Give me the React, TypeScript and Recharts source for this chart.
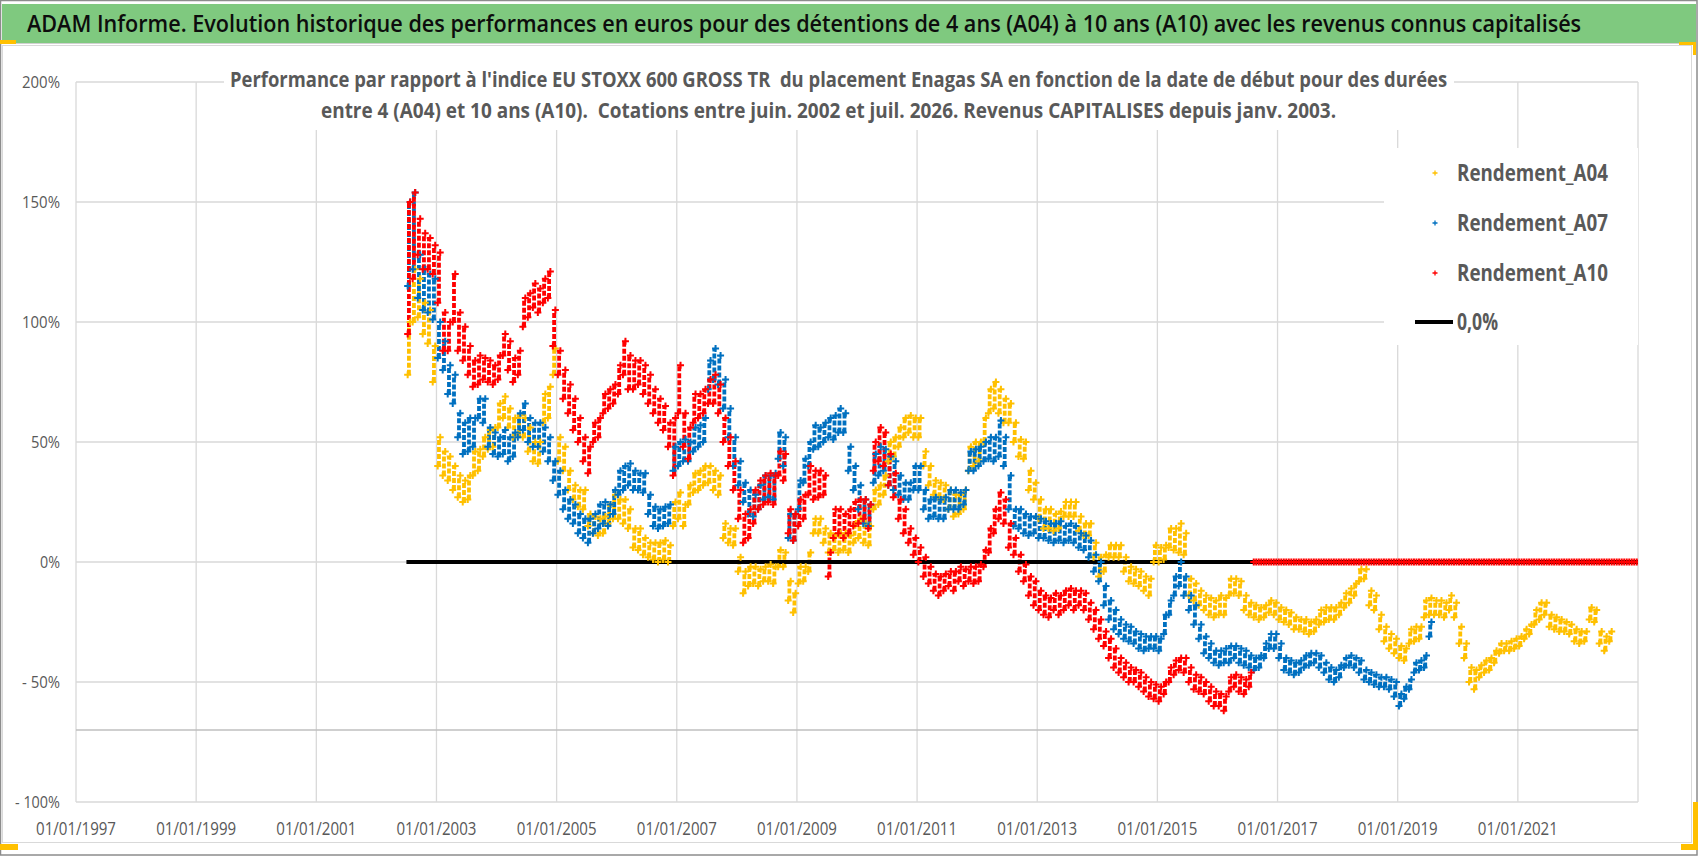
import { useLayoutEffect, useRef, useState } from "react";
import { CartesianGrid, ComposedChart, ErrorBar, ReferenceLine, Scatter, XAxis, YAxis } from "recharts";

const W = 1698;
const H = 856;
const FONT = "'Open Sans', 'Liberation Sans', sans-serif";
const GREY_TEXT = "#595959";

const X_TICKS = [1997, 1999, 2001, 2003, 2005, 2007, 2009, 2011, 2013, 2015, 2017, 2019, 2021];
const Y_TICKS = [-100, -50, 0, 50, 100, 150, 200];
const X_DOMAIN = [1997, 2023];

// première valeur : juil. 2002, une paire [bas, haut] par mois
const SERIES_START = 2002.5;

// Rendement_A04, en %
const A04 = [
  78, 100, 100, 122, 102, 118, 95, 108, 91, 105, 75, 90,
  40, 52, 36, 46, 34, 44, 30, 40, 27, 36, 25, 34, 26, 36, 36, 46, 38, 47, 44, 52, 47, 55, 48, 56,
  56, 66, 60, 69, 56, 64, 52, 60, 53, 61, 52, 60, 46, 56, 42, 50, 41, 50, 58, 70, 60, 73, 78, 89,
  42, 52, 38, 48, 30, 38, 26, 32, 23, 30, 22, 30, 15, 20, 12, 19, 11, 18, 12, 19, 16, 24, 18, 28,
  18, 26, 16, 26, 14, 22, 6, 14, 5, 14, 3, 10, 2, 8, 1, 8, 0, 8, 1, 9, 0, 7, 15, 25,
  18, 29, 15, 24, 24, 32, 29, 37, 30, 38, 32, 40, 33, 40, 30, 38, 28, 36, 10, 16, 8, 14, 7, 14,
  -4, 2, -13, -4, -10, -2, -9, -2, -10, -3, -8, -2, -8, -1, -9, -2, -2, 5, -2, 4, -16, -8, -21, -13,
  -9, -2, -8, -2, -4, 4, 12, 18, 12, 18, 8, 14, 4, 12, 5, 11, 4, 12, 5, 12, 4, 11, 8, 16,
  10, 18, 8, 16, 7, 15, 22, 30, 24, 32, 28, 36, 42, 50, 44, 52, 48, 56, 52, 60, 54, 61, 52, 60,
  52, 60, 40, 46, 32, 40, 28, 34, 27, 33, 26, 32, 22, 30, 19, 28, 20, 28, 22, 30, 38, 48, 40, 50,
  42, 50, 50, 60, 62, 72, 64, 75, 62, 72, 58, 68, 58, 66, 50, 58, 44, 51, 43, 50, 30, 38, 26, 33,
  18, 26, 14, 22, 14, 22, 13, 20, 14, 21, 19, 25, 19, 25, 19, 25, 13, 19, 11, 16, 11, 16, 2, 8,
  -6, 2, -4, 3, 2, 7, 2, 7, 2, 7, -4, 2, -8, -2, -9, -3, -10, -4, -12, -6, -14, -7, 0, 7,
  0, 6, 1, 7, 6, 14, 5, 14, 4, 16, 3, 12, -14, -7, -16, -9, -18, -12, -20, -14, -22, -15, -23, -16,
  -22, -14, -22, -15, -14, -7, -13, -7, -14, -8, -20, -14, -22, -17, -23, -18, -24, -19, -23, -18, -21, -16, -22, -17,
  -24, -19, -25, -20, -26, -21, -28, -23, -28, -24, -29, -24, -30, -25, -29, -24, -26, -20, -25, -19, -24, -19, -24, -19,
  -22, -17, -19, -13, -17, -11, -14, -9, -8, -3, -7, -3, -18, -12, -20, -14, -28, -22, -33, -27, -36, -30, -38, -32,
  -40, -35, -41, -36, -34, -28, -33, -27, -32, -27, -23, -16, -22, -15, -22, -16, -22, -16, -23, -17, -20, -14, -23, -17,
  -34, -27, -40, -34, -50, -44, -53, -45, -48, -43, -46, -41, -45, -40, -42, -37, -38, -34, -37, -34, -37, -33, -36, -32,
  -35, -31, -32, -28, -30, -26, -26, -20, -24, -17, -22, -17, -27, -22, -28, -23, -29, -24, -29, -25, -30, -26, -33, -28,
  -34, -29, -33, -29, -24, -19, -25, -20, -34, -29, -37, -31, -33, -29,
];

// Rendement_A07, en %
const A07 = [
  115, 150, 122, 154, 110, 128, 105, 122, 104, 120, 101, 118,
  85, 100, 80, 92, 70, 82, 66, 78, 52, 62, 45, 58, 46, 60, 48, 60, 60, 68, 58, 68, 48, 56, 45, 54,
  44, 52, 45, 55, 42, 52, 44, 54, 52, 62, 55, 66, 50, 60, 48, 58, 48, 58, 46, 56, 42, 52, 34, 42,
  28, 38, 22, 30, 18, 26, 16, 24, 12, 20, 10, 18, 8, 18, 12, 20, 14, 24, 16, 25, 15, 24, 20, 30,
  28, 38, 30, 40, 32, 41, 30, 38, 30, 37, 29, 37, 20, 28, 15, 23, 14, 22, 15, 23, 16, 24, 38, 48,
  40, 50, 42, 51, 42, 50, 46, 56, 48, 57, 50, 60, 72, 84, 76, 89, 74, 86, 64, 76, 52, 64, 40, 52,
  32, 42, 25, 33, 20, 30, 19, 28, 22, 32, 26, 36, 27, 36, 26, 37, 43, 54, 40, 52, 10, 20, 9, 20,
  22, 34, 33, 43, 40, 50, 47, 57, 48, 56, 50, 58, 52, 60, 51, 61, 54, 64, 54, 62, 38, 48, 30, 40,
  22, 32, 16, 26, 15, 24, 33, 45, 36, 48, 38, 47, 32, 44, 30, 42, 28, 36, 26, 33, 26, 33, 30, 40,
  30, 40, 22, 30, 18, 26, 19, 27, 18, 26, 18, 27, 22, 30, 22, 30, 22, 29, 24, 30, 38, 46, 38, 47,
  40, 48, 42, 50, 43, 52, 42, 52, 44, 59, 40, 52, 22, 36, 15, 22, 14, 22, 12, 20, 11, 19, 12, 19,
  10, 18, 10, 17, 9, 16, 8, 16, 9, 17, 8, 15, 9, 16, 8, 15, 6, 12, 5, 11, 2, 9, -4, 3,
  -8, 0, -18, -10, -24, -16, -28, -20, -30, -24, -32, -26, -33, -27, -34, -29, -36, -30, -37, -31, -36, -31, -36, -31,
  -37, -32, -30, -22, -22, -16, -14, -6, -10, 0, -14, -6, -20, -14, -26, -18, -32, -26, -38, -31, -40, -34, -42, -37,
  -43, -37, -42, -36, -42, -35, -40, -35, -42, -36, -43, -37, -44, -39, -45, -40, -44, -39, -40, -34, -36, -30, -36, -30,
  -40, -34, -45, -40, -46, -41, -47, -42, -46, -41, -44, -39, -43, -38, -42, -38, -44, -39, -46, -42, -49, -44, -50, -45,
  -48, -43, -44, -40, -43, -39, -44, -40, -46, -41, -49, -45, -50, -46, -51, -47, -52, -48, -52, -48, -53, -49, -56, -50,
  -60, -55, -57, -52, -53, -49, -46, -42, -45, -41, -44, -39, -31, -25,
];

// Rendement_A10, en % (0 une fois la durée de 10 ans non disponible)
const A10 = [
  95, 150, 118, 154, 128, 143, 122, 137, 122, 135, 120, 132,
  108, 129, 88, 104, 88, 100, 100, 120, 88, 104, 84, 98, 78, 90, 73, 84, 74, 86, 76, 85, 75, 84, 74, 82,
  76, 86, 86, 95, 80, 92, 75, 85, 78, 88, 98, 110, 102, 112, 106, 116, 104, 114, 108, 118, 110, 121, 90, 105,
  78, 88, 68, 80, 62, 74, 55, 68, 50, 60, 42, 52, 37, 48, 50, 58, 52, 60, 62, 70, 64, 72, 66, 74,
  70, 82, 78, 92, 72, 86, 72, 84, 74, 84, 70, 82, 66, 78, 62, 72, 58, 68, 55, 65, 48, 58, 36, 60,
  62, 82, 48, 62, 43, 56, 58, 70, 60, 70, 62, 72, 66, 76, 66, 78, 62, 74, 50, 60, 40, 52, 30, 42,
  18, 30, 8, 20, 10, 22, 16, 30, 22, 34, 24, 36, 25, 37, 24, 36, 36, 46, 34, 45, 12, 22, 9, 20,
  15, 26, 18, 28, 28, 40, 26, 38, 27, 38, 28, 36, -6, 4, 10, 22, 12, 22, 10, 20, 12, 22, 15, 25,
  16, 26, 18, 26, 14, 24, 38, 50, 42, 56, 40, 54, 32, 45, 27, 37, 18, 26, 12, 22, 8, 14, 3, 10,
  0, 6, -6, 2, -9, -2, -12, -5, -14, -6, -12, -5, -10, -4, -12, -4, -8, -2, -10, -3, -8, -2, -9, -2,
  -8, -1, -2, 5, 4, 14, 12, 22, 18, 29, 16, 26, 6, 16, 3, 10, -4, 3, -8, -1, -14, -6, -18, -8,
  -20, -12, -22, -14, -23, -15, -20, -13, -22, -14, -20, -12, -18, -11, -20, -12, -18, -12, -20, -13, -24, -17, -28, -20,
  -32, -24, -35, -29, -40, -32, -44, -36, -46, -40, -48, -42, -50, -44, -50, -45, -52, -46, -54, -48, -56, -50, -57, -51,
  -58, -52, -55, -50, -50, -44, -47, -41, -45, -40, -46, -40, -50, -44, -53, -47, -54, -48, -55, -50, -58, -52, -60, -54,
  -60, -55, -62, -56, -54, -48, -52, -47, -54, -48, -55, -49, -52, -46, 0, 0, 0, 0, 0, 0, 0, 0, 0, 0,
  0, 0, 0, 0, 0, 0, 0, 0, 0, 0, 0, 0, 0, 0, 0, 0, 0, 0, 0, 0, 0, 0, 0, 0,
  0, 0, 0, 0, 0, 0, 0, 0, 0, 0, 0, 0, 0, 0, 0, 0, 0, 0, 0, 0, 0, 0, 0, 0,
  0, 0, 0, 0, 0, 0, 0, 0, 0, 0, 0, 0, 0, 0, 0, 0, 0, 0, 0, 0, 0, 0, 0, 0,
  0, 0, 0, 0, 0, 0, 0, 0, 0, 0, 0, 0, 0, 0, 0, 0, 0, 0, 0, 0, 0, 0, 0, 0,
  0, 0, 0, 0, 0, 0, 0, 0, 0, 0, 0, 0, 0, 0, 0, 0, 0, 0, 0, 0, 0, 0, 0, 0,
  0, 0, 0, 0, 0, 0, 0, 0, 0, 0, 0, 0, 0, 0, 0, 0, 0, 0, 0, 0, 0, 0, 0, 0,
];

// série "0,0%"
const ZERO_LINE = [
  { x: 2002.5, y: 0 },
  { x: 2023, y: 0 },
];

const SERIES = [
  { name: "Rendement_A04", values: A04, color: "#FFC000" },
  { name: "Rendement_A07", values: A07, color: "#0070C0" },
  { name: "Rendement_A10", values: A10, color: "#FF0000" },
];

// low point in the first half of the month, high point in the second half
function toPoints(values: number[]) {
  return values.map((v, i) => {
    const month = Math.floor(i / 2);
    const x = SERIES_START + month / 12 + (i % 2 === 0 ? 1 : 3) / 48;
    return { x, y: v };
  });
}

// one entry per month: the low reading, with the spread up to the high reading
function toBands(values: number[]) {
  const out: { x: number; y: number; spread: [number, number] }[] = [];
  for (let i = 0; i + 1 < values.length; i += 2) {
    out.push({ x: SERIES_START + i / 24 + 1 / 24, y: values[i], spread: [0, values[i + 1] - values[i]] });
  }
  return out;
}

const plus = (color: string, arm = 3.5, sw = 2) => (p: any) => (
  <path
    d={`M${p.cx - arm},${p.cy}h${arm * 2}M${p.cx},${p.cy - arm}v${arm * 2}`}
    stroke={color}
    strokeWidth={sw}
    fill="none"
  />
);

// text squeezed horizontally to a given width (the reference font is narrow)
function FitText({ x, y, width, anchor = "start", children, ...rest }: any) {
  const ref = useRef<SVGTextElement>(null);
  const [k, setK] = useState(1);
  useLayoutEffect(() => {
    const el = ref.current;
    if (!el) return;
    const w = el.getComputedTextLength();
    if (w > 0) setK(width / w);
  }, [width, children]);
  return (
    <text ref={ref} x={0} y={0} textAnchor={anchor} transform={`translate(${x},${y}) scale(${k},1)`} {...rest}>
      {children}
    </text>
  );
}

const Y_LABEL_LEN: Record<string, number> = {
  "200%": 38,
  "150%": 38,
  "100%": 38,
  "50%": 29,
  "0%": 20,
  "- 50%": 38,
  "- 100%": 45,
};

const fmtPct = (v: number) => (v < 0 ? `- ${-v}%` : `${v}%`);

function XTick({ x, y, payload }: any) {
  return (
    <FitText x={x} y={y + 33} width={80} anchor="middle" fontFamily={FONT} fontSize={18} fill={GREY_TEXT}>
      {`01/01/${payload.value}`}
    </FitText>
  );
}

function YTick({ x, y, payload }: any) {
  const label = fmtPct(payload.value);
  return (
    <FitText
      x={x - 16}
      y={y + 6}
      width={Y_LABEL_LEN[label]}
      anchor="end"
      fontFamily={FONT}
      fontSize={16}
      fill={GREY_TEXT}
      style={{ whiteSpace: "pre" }}
    >
      {label}
    </FitText>
  );
}

const LEGEND_ROWS = [
  { label: "Rendement_A04", color: "#FFC000", y: 173 },
  { label: "Rendement_A07", color: "#0070C0", y: 223 },
  { label: "Rendement_A10", color: "#FF0000", y: 273 },
];

export default function App() {
  return (
    <div style={{ position: "relative", width: W, height: H, background: "#fff", overflow: "hidden" }}>
      <style>{`body{margin:0}`}</style>

      {/* cadre, bandeau vert, poignées de sélection */}
      <svg width={W} height={H} style={{ position: "absolute", left: 0, top: 0 }}>
        <rect x={0.5} y={0.5} width={W - 1.5} height={H - 1.5} fill="#fff" stroke="#8c8c8c" strokeWidth={1.5} />
        <rect x={2} y={4} width={1694} height={39} fill="#7fc97f" />
        <line x1={2} y1={43.5} x2={1692} y2={43.5} stroke="#d0d0d0" />
        <rect x={2.5} y={45.5} width={1689} height={797} fill="none" stroke="#d9d9d9" />
        <rect x={0} y={40} width={16} height={4} fill="#FFC000" />
        <rect x={1679} y={42} width={17} height={3} fill="#FFC000" />
        <rect x={1693} y={42} width={3} height={13} fill="#FFC000" />
        <rect x={0} y={844} width={18} height={6} fill="#FFC000" />
        <rect x={1693} y={802} width={5} height={48} fill="#FFC000" />
        <rect x={1681} y={844} width={17} height={6} fill="#FFC000" />
        <FitText x={27} y={32} width={1555} fontFamily={FONT} fontSize={24} fontWeight={600} fill="#0d0d0d">
          ADAM Informe. Evolution historique des performances en euros pour des détentions de 4 ans (A04) à 10 ans (A10) avec les revenus connus capitalisés
        </FitText>
      </svg>

      <div style={{ position: "absolute", left: 0, top: 0 }}>
        <ComposedChart width={W} height={H} margin={{ top: 82, right: 60, bottom: 14, left: 0 }}>
          <CartesianGrid stroke="#d9d9d9" strokeWidth={1.3} />
          <XAxis
            type="number"
            dataKey="x"
            domain={X_DOMAIN}
            ticks={X_TICKS}
            allowDataOverflow
            height={40}
            axisLine={false}
            tickLine={false}
            tickSize={0}
            tickMargin={0}
            tick={<XTick />}
            interval={0}
          />
          <YAxis
            type="number"
            dataKey="y"
            domain={[-100, 200]}
            ticks={Y_TICKS}
            allowDataOverflow
            width={76}
            axisLine={false}
            tickLine={false}
            tickSize={0}
            tickMargin={0}
            tick={<YTick />}
            interval={0}
          />
          <ReferenceLine y={-70} stroke="#bfbfbf" strokeWidth={1.5} />
          <Scatter
            name="0,0%"
            data={ZERO_LINE}
            line={{ stroke: "#000", strokeWidth: 4 }}
            shape={() => <g />}
            isAnimationActive={false}
          />
          {SERIES.flatMap((s) => [
            <Scatter
              key={`${s.name}-band`}
              data={toBands(s.values)}
              shape={() => <g />}
              isAnimationActive={false}
            >
              <ErrorBar
                dataKey="spread"
                direction="y"
                width={0}
                stroke={s.color}
                strokeWidth={3.8}
                strokeDasharray="5 2"
              />
            </Scatter>,
            <Scatter
              key={s.name}
              name={s.name}
              data={toPoints(s.values)}
              shape={plus(s.color)}
              isAnimationActive={false}
            />,
          ])}
        </ComposedChart>
      </div>

      {/* sous-titre et légende, sur fond blanc */}
      <svg width={W} height={H} style={{ position: "absolute", left: 0, top: 0, pointerEvents: "none" }}>
        <rect x={224} y={58} width={1230} height={72} fill="#fff" />
        <FitText
          x={230}
          y={87}
          width={1218}
          fontFamily={FONT}
          fontSize={22}
          fontWeight={700}
          fill={GREY_TEXT}
          style={{ whiteSpace: "pre" }}
        >
          {"Performance par rapport à l'indice EU STOXX 600 GROSS TR  du placement Enagas SA en fonction de la date de début pour des durées"}
        </FitText>
        <FitText
          x={321}
          y={118}
          width={1016}
          fontFamily={FONT}
          fontSize={22}
          fontWeight={700}
          fill={GREY_TEXT}
          style={{ whiteSpace: "pre" }}
        >
          {"entre 4 (A04) et 10 ans (A10).  Cotations entre juin. 2002 et juil. 2026. Revenus CAPITALISES depuis janv. 2003."}
        </FitText>

        <rect x={1384} y={148} width={254} height={197} fill="#fff" />
        {LEGEND_ROWS.map((r) => (
          <g key={r.label}>
            {plus(r.color, 2.5, 1.3)({ cx: 1435, cy: r.y })}
            <FitText x={1457} y={r.y + 8} width={151} fontFamily={FONT} fontSize={23} fontWeight={700} fill={GREY_TEXT}>
              {r.label}
            </FitText>
          </g>
        ))}
        <line x1={1415} y1={322} x2={1453} y2={322} stroke="#000" strokeWidth={4} />
        <FitText x={1457} y={330} width={41} fontFamily={FONT} fontSize={23} fontWeight={700} fill={GREY_TEXT}>
          0,0%
        </FitText>
      </svg>
    </div>
  );
}
